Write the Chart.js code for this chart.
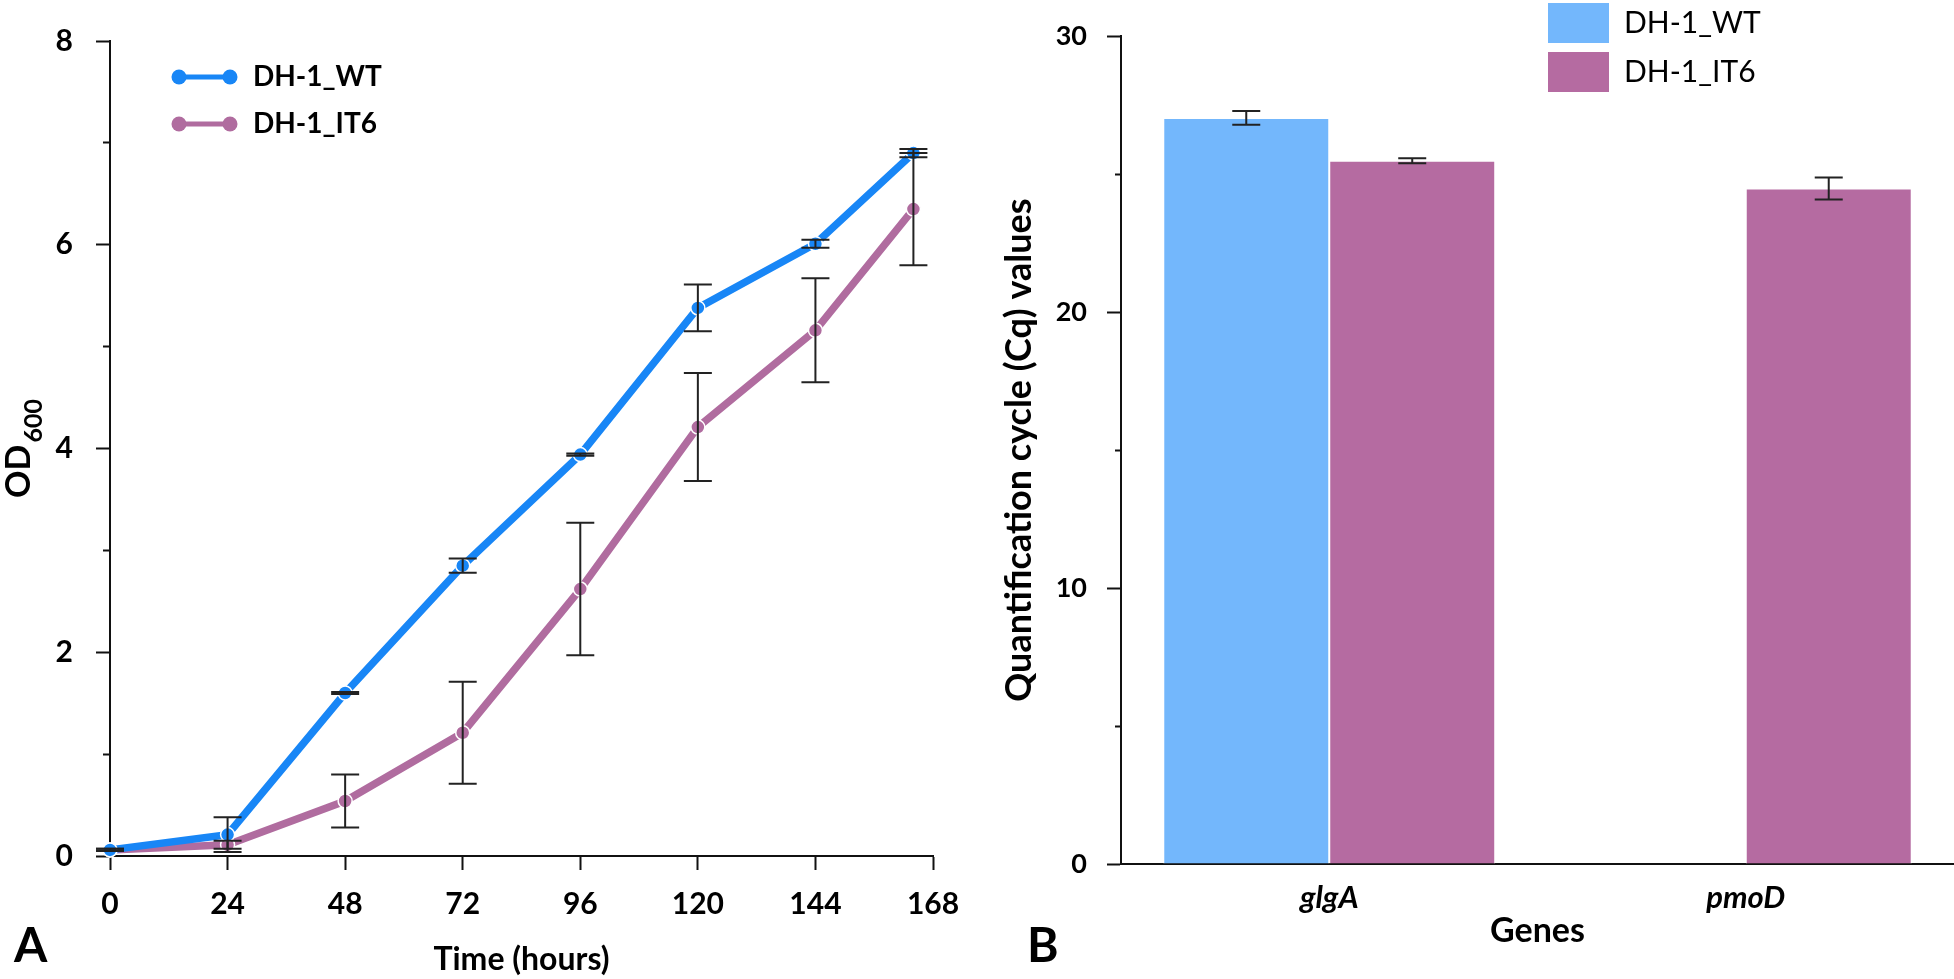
<!DOCTYPE html>
<html>
<head>
<meta charset="utf-8">
<script src="https://cdn.jsdelivr.net/npm/chart.js@4.4.1/dist/chart.umd.min.js"></script>
<style>
body{margin:0;background:#fff;overflow:hidden}
#growth{position:absolute;left:0;top:0}
#cq{position:absolute;left:980px;top:0}
</style>
</head>
<body>
<canvas id="growth" width="980" height="979"></canvas>
<canvas id="cq" width="974" height="979"></canvas>
<script>
// panel A - growth curves
const hours=[0,24,48,72,96,120,144,164]
const wtOD=[0.06,0.21,1.60,2.85,3.94,5.38,6.01,6.90]
const wtODErr=[0.01,0.17,0.01,0.07,0.01,0.23,0.04,0.04]
const it6OD=[0.06,0.11,0.54,1.21,2.62,4.21,5.16,6.35]
const it6ODErr=[0.01,0.04,0.26,0.50,0.65,0.53,0.51,0.55]
const hourTicks=[0,24,48,72,96,120,144,168]
const odTicks=[0,2,4,6,8]

// panel B - qPCR Cq values
const genes=["glgA","pmoD"]
const wtCq=[27.04,null]
const wtCqErr=[0.25,null]
const it6Cq=[25.49,24.48]
const it6CqErr=[0.09,0.40]
const cqTicks=[0,10,20,30]

const strains=["DH-1_WT","DH-1_IT6"]

const blueLine="#1886f6"
const pinkLine="#b06c9f"
const blueBar="#73b7fc"
const pinkBar="#b56ba1"
const ink="#111"

const errorBars={
    id:"errorBars",
    afterDatasetsDraw(chart){
        const ctx=chart.ctx
        const y=chart.scales.y
        ctx.save()
        ctx.strokeStyle="#222"
        ctx.lineWidth=2
        chart.data.datasets.forEach((ds,i)=>{
            if(!ds.errors) return
            chart.getDatasetMeta(i).data.forEach((el,j)=>{
                const raw=ds.data[j]
                const v=(raw!==null&&typeof raw==="object")?raw.y:raw
                const e=ds.errors[j]
                if(v==null||e==null) return
                const top=y.getPixelForValue(v+e)
                const bot=y.getPixelForValue(v-e)
                ctx.beginPath()
                ctx.moveTo(el.x,top);ctx.lineTo(el.x,bot)
                ctx.moveTo(el.x-14,top);ctx.lineTo(el.x+14,top)
                ctx.moveTo(el.x-14,bot);ctx.lineTo(el.x+14,bot)
                ctx.stroke()
            })
        })
        ctx.restore()
    }
}

const cornerLegend={
    id:"cornerLegend",
    afterDraw(chart,args,opts){
        if(!opts||opts.x==null) return
        const ctx=chart.ctx
        ctx.save()
        chart.data.datasets.forEach((ds,i)=>{
            const cy=opts.y+i*opts.rowGap
            if(opts.kind==="line"){
                ctx.strokeStyle=ds.borderColor
                ctx.lineWidth=5
                ctx.beginPath()
                ctx.moveTo(opts.x+8,cy);ctx.lineTo(opts.x+59,cy)
                ctx.stroke()
                ctx.fillStyle=ds.borderColor
                ;[opts.x+8,opts.x+59].forEach(px=>{
                    ctx.beginPath();ctx.arc(px,cy,7.5,0,Math.PI*2);ctx.fill()
                })
            }else{
                ctx.fillStyle=ds.backgroundColor
                ctx.fillRect(opts.x,cy-20,61,40)
            }
            ctx.fillStyle="#000"
            ctx.font=opts.font
            ctx.textBaseline="middle"
            ctx.textAlign="left"
            ctx.fillText(ds.label,opts.textX,cy)
        })
        ctx.restore()
    }
}

// panel letters and the OD600 axis title (needs a subscript)
const panelText={
    id:"panelText",
    afterDraw(chart,args,opts){
        if(!opts||!opts.letter) return
        const ctx=chart.ctx
        ctx.save()
        ctx.fillStyle="#000"
        ctx.textBaseline="alphabetic"
        ctx.textAlign="left"
        ctx.font="bold 48px Lato"
        ctx.fillText(opts.letter,opts.letterX,962)
        if(opts.odTitle){
            const a=chart.chartArea
            const cy=(a.top+a.bottom)/2
            ctx.font="bold 34px Lato"
            const w1=ctx.measureText("OD").width
            ctx.font="bold 25px Lato"
            const w2=ctx.measureText("600").width
            ctx.translate(30,cy+(w1+w2+2)/2)
            ctx.rotate(-Math.PI/2)
            ctx.font="bold 34px Lato"
            ctx.fillText("OD",0,0)
            ctx.font="bold 25px Lato"
            ctx.fillText("600",w1+2,12)
        }
        ctx.restore()
    }
}

const boldFont=(size)=>({family:"Lato",weight:"bold",size:size})

const growthChart=new Chart(document.querySelector("#growth").getContext("2d"),{
    type:"line",
    data:{
        datasets:[
            {
                label:strains[0],
                data:hours.map((h,i)=>({x:h,y:wtOD[i]})),
                errors:wtODErr,
                borderColor:blueLine,
                backgroundColor:blueLine,
                borderWidth:7.5,
                pointRadius:7,
                pointBackgroundColor:blueLine,
                pointBorderColor:"#fff",
                pointBorderWidth:1.5,
                tension:0,
                clip:false,
            },
            {
                label:strains[1],
                data:hours.map((h,i)=>({x:h,y:it6OD[i]})),
                errors:it6ODErr,
                borderColor:pinkLine,
                backgroundColor:pinkLine,
                borderWidth:7.5,
                pointRadius:7,
                pointBackgroundColor:pinkLine,
                pointBorderColor:"#fff",
                pointBorderWidth:1.5,
                tension:0,
                clip:false,
            },
        ],
    },
    options:{
        responsive:false,
        animation:false,
        devicePixelRatio:1,
        layout:{padding:{top:36,right:47,left:0,bottom:0}},
        plugins:{
            legend:{display:false},
            tooltip:{enabled:false},
            cornerLegend:{kind:"line",x:171,y:77,rowGap:47,textX:253,font:"bold 28px Lato"},
            panelText:{letter:"A",letterX:14,odTitle:true},
        },
        scales:{
            x:{
                type:"linear",
                min:0,
                max:168,
                afterBuildTicks(s){s.ticks=hourTicks.map(v=>({value:v}))},
                afterFit(s){s.height=123},
                grid:{drawOnChartArea:false,tickLength:14,tickColor:ink,tickWidth:2},
                border:{color:ink,width:2},
                ticks:{color:"#000",font:boldFont(30),padding:16,maxRotation:0,autoSkip:false},
                title:{display:true,text:"Time (hours)",color:"#000",font:boldFont(32),padding:{top:0,bottom:0}},
            },
            y:{
                min:0,
                max:8,
                afterFit(s){s.width=110},
                grid:{
                    drawOnChartArea:false,tickLength:14,tickColor:ink,tickWidth:2,
                    tickBorderDash:(c)=>(c.tick&&c.tick.value%2)?[0,7,20]:[],
                },
                border:{color:ink,width:2},
                ticks:{
                    stepSize:1,color:"#000",font:boldFont(30),padding:23,autoSkip:false,
                    callback:(v)=>odTicks.includes(v)?v:"",
                },
            },
        },
    },
    plugins:[errorBars,cornerLegend,panelText],
})

const cqChart=new Chart(document.querySelector("#cq").getContext("2d"),{
    type:"bar",
    data:{
        labels:genes,
        datasets:[
            {label:strains[0],data:wtCq,errors:wtCqErr,backgroundColor:blueBar,borderColor:"#fff",borderWidth:1},
            {label:strains[1],data:it6Cq,errors:it6CqErr,backgroundColor:pinkBar,borderColor:"#fff",borderWidth:1},
        ],
    },
    options:{
        responsive:false,
        animation:false,
        devicePixelRatio:1,
        barPercentage:1,
        categoryPercentage:0.797,
        layout:{padding:{top:31,right:0,left:0,bottom:0}},
        plugins:{
            legend:{display:false},
            tooltip:{enabled:false},
            cornerLegend:{kind:"box",x:568,y:23,rowGap:49,textX:644,font:"30px Lato"},
            panelText:{letter:"B",letterX:47},
        },
        scales:{
            x:{
                afterFit(s){s.height=115},
                grid:{display:false},
                border:{display:true,color:ink,width:2},
                ticks:{color:"#000",font:{family:"Lato",weight:"bold",style:"italic",size:31},padding:7},
                title:{display:true,text:"Genes",color:"#000",font:boldFont(34),padding:{top:0,bottom:28}},
            },
            y:{
                min:0,
                max:30,
                afterFit(s){s.width=141},
                grid:{
                    drawOnChartArea:false,tickLength:14,tickColor:ink,tickWidth:2,
                    tickBorderDash:(c)=>(c.tick&&c.tick.value%10)?[0,8,20]:[],
                },
                border:{color:ink,width:2},
                ticks:{
                    stepSize:5,color:"#000",font:boldFont(27),padding:20,autoSkip:false,
                    callback:(v)=>cqTicks.includes(v)?v:"",
                },
                title:{display:true,text:"Quantification cycle (Cq) values",color:"#000",font:boldFont(36),padding:{top:18,bottom:0}},
            },
        },
    },
    plugins:[errorBars,cornerLegend,panelText],
})
</script>
</body>
</html>
